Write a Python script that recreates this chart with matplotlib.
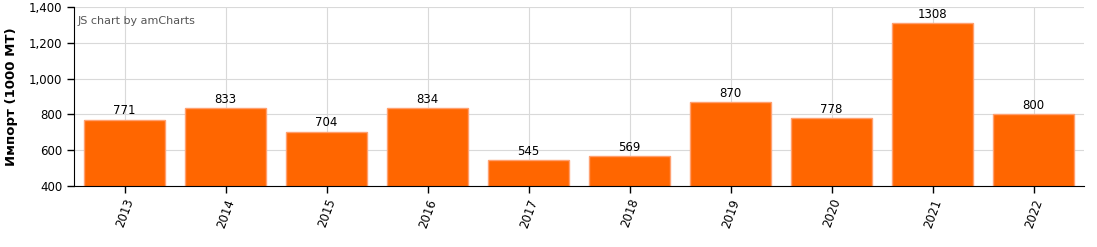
import matplotlib.pyplot as plt
import numpy as np

years = ["2013", "2014", "2015", "2016", "2017", "2018", "2019", "2020", "2021", "2022"]
imports = [771, 833, 704, 834, 545, 569, 870, 778, 1308, 800]
y_ticks = [400, 600, 800, 1000, 1200, 1400]

orange = "#ff6600"
edge = "#ffa070"
grid_c = "#d9d9d9"
txt = "#000000"

fig = plt.figure(figsize=(10.97, 2.47), dpi=100)
ax = fig.add_axes([74 / 1097, 1 - 186 / 247, (1084 - 74) / 1097, (186 - 7) / 247])

x = np.arange(len(years))
ax.bar(x, imports, width=0.8, color=orange, edgecolor=edge, linewidth=1, zorder=2)

# value labels above bars
for xi, v in zip(x, imports):
    ax.text(xi, v + 12, str(v), ha="center", va="bottom", fontsize=8.5, color=txt, zorder=3)

ax.set_xlim(-0.5, len(years) - 0.5)
ax.set_ylim(400, 1400)
ax.set_yticks(y_ticks, labels=[f"{t:,}" for t in y_ticks])
ax.set_xticks(x, labels=years, rotation=70, ha="center", va="top")

ax.tick_params(axis="both", labelsize=8.5, length=5, width=1, colors=txt)
ax.tick_params(axis="x", pad=3)

ax.grid(True, color=grid_c, lw=0.8, zorder=0)
ax.set_axisbelow(True)
ax.spines[["top", "right"]].set_visible(False)
ax.spines[["left", "bottom"]].set_color(txt)

ax.set_ylabel("Импорт (1000 MT)", fontsize=9.5, fontweight="bold", labelpad=8)

ax.text(0.004, 0.95, "JS chart by amCharts", transform=ax.transAxes,
        fontsize=8, color="#555555", ha="left", va="top")

plt.savefig("out.png", dpi=100)
